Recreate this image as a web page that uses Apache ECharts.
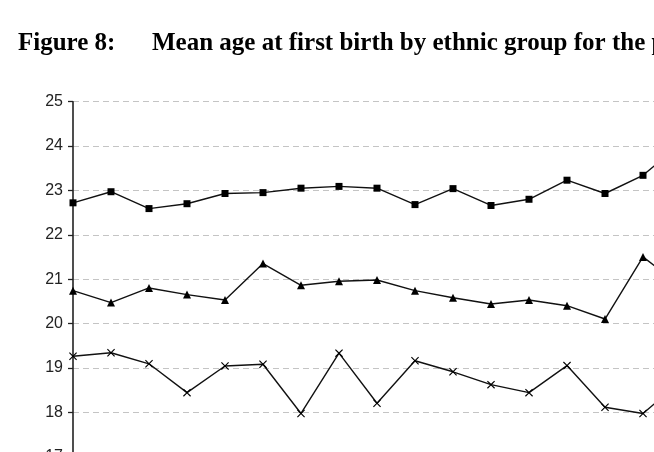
<!DOCTYPE html>
<html>
<head>
<meta charset="utf-8">
<script src="https://cdn.jsdelivr.net/npm/echarts@6/dist/echarts.min.js"></script>
<style>
  html, body { margin: 0; padding: 0; background: #fff; }
  #myChart { width: 654px; height: 452px; }
</style>
</head>
<body>
<div id="myChart"></div>
<script>
// years along the x axis (axis itself falls below the visible area)
var years = ['1981', '1982', '1983', '1984', '1985', '1986', '1987', '1988', '1989',
             '1990', '1991', '1992', '1993', '1994', '1995', '1996', '1997'];

// top line, square markers
var groupSquare = [22.72, 22.97, 22.59, 22.70, 22.93, 22.95, 23.05, 23.09, 23.05,
                   22.68, 23.04, 22.66, 22.80, 23.23, 22.93, 23.34, 24.05];
// middle line, triangle markers
var groupTriangle = [20.74, 20.47, 20.80, 20.65, 20.53, 21.35, 20.86, 20.95, 20.98,
                     20.74, 20.58, 20.44, 20.53, 20.40, 20.10, 21.50, 20.85];
// bottom line, cross markers
var groupCross = [19.26, 19.34, 19.09, 18.44, 19.04, 19.08, 17.97, 19.33, 18.20,
                  19.16, 18.91, 18.62, 18.44, 19.05, 18.11, 17.97, 18.70];

var crossSymbol = 'path://M0,1L1,0L5,4L9,0L10,1L6,5L10,9L9,10L5,6L1,10L0,9L4,5Z';

var myChart = echarts.init(document.getElementById('myChart'));

function lineSeries(name, data, symbol, size) {
    return {
        name: name,
        type: 'line',
        data: data,
        symbol: symbol,
        symbolSize: size,
        showSymbol: true,
        animation: false,
        lineStyle: { color: '#111', width: 1.4 },
        itemStyle: { color: '#000' }
    };
}

var titleFont = { fontFamily: 'Liberation Serif', fontWeight: 'bold', fontSize: 25, color: '#000' };

var option = {
    animation: false,
    backgroundColor: '#fff',
    title: [{
        text: 'Figure 8:',
        left: 18,
        top: 31,
        padding: 0,
        textStyle: titleFont
    }, {
        text: 'Mean age at first birth by ethnic group for the period',
        left: 152,
        top: 31,
        padding: 0,
        textStyle: titleFont
    }],
    // plot area runs past the right and bottom edges of the picture
    grid: {
        left: 73,
        top: 101.7,
        width: 608,
        height: 443.5,
        outerBoundsMode: 'none'
    },
    xAxis: {
        type: 'category',
        data: years,
        boundaryGap: false,
        axisLine: { lineStyle: { color: '#333' } },
        axisTick: { show: false },
        axisLabel: { show: false }
    },
    yAxis: {
        type: 'value',
        min: 15,
        max: 25,
        interval: 1,
        axisLine: { show: true, lineStyle: { color: '#222', width: 1.6 } },
        axisTick: { show: true, length: 5, lineStyle: { color: '#222', width: 1.3 } },
        axisLabel: {
            margin: 10,
            fontFamily: 'Liberation Sans',
            fontSize: 16,
            color: '#222'
        },
        splitLine: {
            show: true,
            lineStyle: { color: '#c4c4c4', type: [6, 4], width: 1 }
        }
    },
    series: [
        lineSeries('Group 1', groupSquare, 'rect', 7),
        lineSeries('Group 2', groupTriangle, 'triangle', 8),
        lineSeries('Group 3', groupCross, crossSymbol, 8)
    ]
};

myChart.setOption(option);

window.onresize = function () {
    myChart.resize();
};
</script>
</body>
</html>
